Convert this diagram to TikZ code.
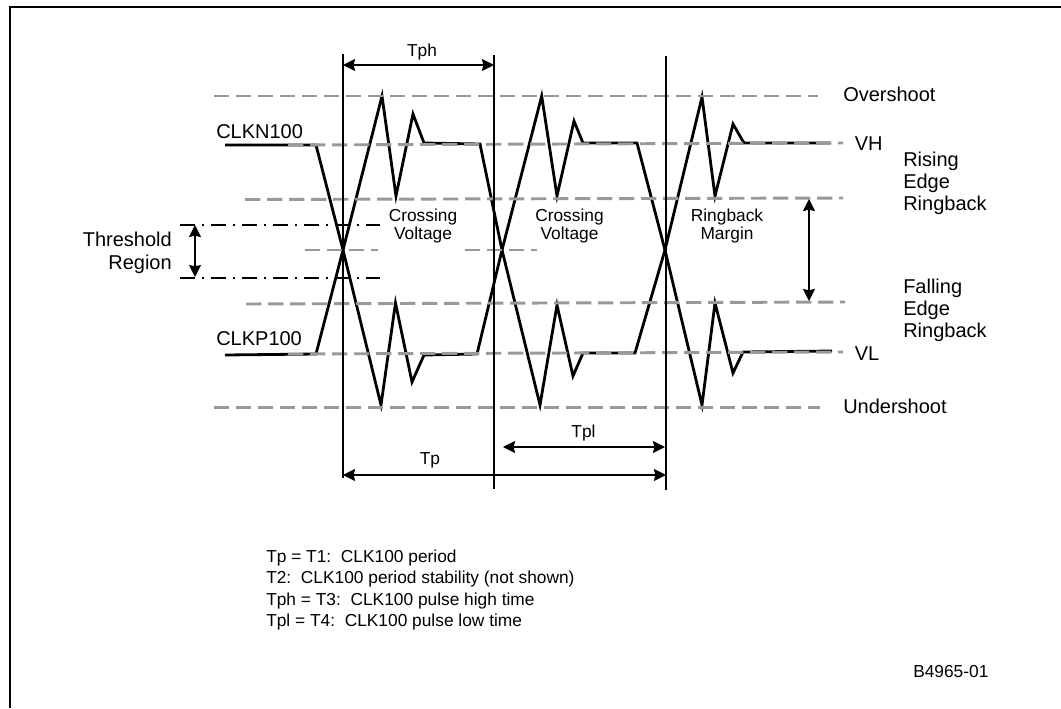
\documentclass[tikz,border=0pt]{standalone}
\usepackage{fontspec}
\setmainfont{Liberation Sans}
\usetikzlibrary{arrows.meta}
\tikzset{
  x=0.75pt,y=-0.75pt,
  lbl/.style={inner sep=0pt,font=\fontsize{15pt}{17pt}\selectfont,anchor=west,align=left},
  lblc/.style={inner sep=0pt,font=\fontsize{13pt}{14pt}\selectfont,align=center},
  levelline/.style={draw=black!40,line width=2.2pt,dash pattern=on 11.5pt off 5pt},
  signal/.style={draw=black,line width=2.1pt,line join=miter},
  vline/.style={draw=black,line width=1.25pt},
  thresh/.style={draw=black,line width=1.6pt,dash pattern=on 11.25pt off 5pt on 2pt off 5pt},
  dim/.style={draw=black,line width=1.3pt,{Stealth[length=9pt,width=9pt,inset=1pt]}-{Stealth[length=9pt,width=9pt,inset=1pt]}},
}
\begin{document}
\begin{tikzpicture}
\useasboundingbox (0,0) rectangle (1061,708);
% frame
\coordinate (fa) at (10,708);
\coordinate (fb) at (10,7);
\coordinate (fc) at (1061,7);
\draw[draw=black,line width=1.9pt] (fa) -- (fb) -- (fc);
% signals
\draw[signal] (225,145) -- (316,145) -- (343,250) -- (381,405) -- (395.5,303) -- (412,382) -- (424,355) -- (477,354) -- (502,250) -- (541.7,96) -- (557,196) -- (574,121) -- (583,143) -- (637,143) -- (665,250) -- (702,405) -- (715,303) -- (733,373) -- (743,352) -- (832,351);
\draw[signal] (225,355) -- (316,354) -- (343,250) -- (382,96) -- (396,196) -- (413,114) -- (424,143) -- (480,144) -- (502,250) -- (540,405) -- (557,305) -- (573,376) -- (583,353) -- (635,353) -- (665,250) -- (702,97) -- (715,196) -- (733,124) -- (744,143) -- (830,143);
% level lines
\coordinate (o1) at (214,96); \coordinate (o2) at (818,96);
\coordinate (h1) at (288,145); \coordinate (h2) at (843,143);
\coordinate (r1) at (245,199.5); \coordinate (r2) at (843,198);
\coordinate (c1) at (305,250); \coordinate (c2) at (378,250);
\coordinate (d1) at (465,250); \coordinate (d2) at (537,250);
\coordinate (f1) at (246,304); \coordinate (f2) at (845,302);
\coordinate (l1) at (288,354); \coordinate (l2) at (843,352);
\coordinate (u1) at (214,407.5); \coordinate (u2) at (820,407.5);
\draw[levelline] (o1) -- (o2);
\draw[levelline] (h1) -- (h2);
\draw[levelline] (r1) -- (r2);
\draw[levelline] (c1) -- (c2);
\draw[levelline] (d1) -- (d2);
\draw[levelline] (f1) -- (f2);
\draw[levelline] (l1) -- (l2);
\draw[levelline] (u1) -- (u2);
% threshold
\coordinate (t1) at (180,225); \coordinate (t2) at (380,225);
\coordinate (b1) at (180,278); \coordinate (b2) at (380,278);
\draw[thresh] (t1) -- (t2);
\draw[thresh] (b1) -- (b2);
\coordinate (tha) at (195,225); \coordinate (thb) at (195,277);
\draw[dim] (tha) -- (thb);
% verticals
\coordinate (v1a) at (343,54); \coordinate (v1b) at (343,478);
\coordinate (v2a) at (494,55); \coordinate (v2b) at (494,489);
\coordinate (v3a) at (666,56); \coordinate (v3b) at (666,490);
\draw[vline] (v1a) -- (v1b);
\draw[vline] (v2a) -- (v2b);
\draw[vline] (v3a) -- (v3b);
% dimensions
\coordinate (tpha) at (343,65); \coordinate (tphb) at (494,65);
\coordinate (tpla) at (503,447); \coordinate (tplb) at (665,447);
\coordinate (tpa) at (343,475); \coordinate (tpb) at (666,475);
\coordinate (rma) at (809,199); \coordinate (rmb) at (809,301);
\draw[dim] (tpha) -- (tphb);
\draw[dim] (tpla) -- (tplb);
\draw[dim] (tpa) -- (tpb);
\draw[dim] (rma) -- (rmb);
% labels
\node[lblc] (ltph) at (422,52) {Tph};
\node[lblc] (ltpl) at (583.5,433.5) {Tpl};
\node[lblc] (ltp) at (430,460.5) {Tp};
\node[lblc] (lcv1) at (423,226) {Crossing\\Voltage};
\node[lblc] (lcv2) at (569.5,226) {Crossing\\Voltage};
\node[lblc] (lrb) at (727,226) {Ringback\\Margin};
\node[lbl] (lclkn) at (216,132) {CLKN100};
\node[lbl] (lclkp) at (216,339) {CLKP100};
\node[lbl,align=right,anchor=east] (ltr) at (172,253) {Threshold\\Region};
\node[lbl] (lov) at (843,94) {Overshoot};
\node[lbl] (lvh) at (854.5,143.5) {VH};
\node[lbl,font=\fontsize{15pt}{16.4pt}\selectfont] (lre) at (903,183) {Rising\\Edge\\Ringback};
\node[lbl,font=\fontsize{15pt}{16.6pt}\selectfont] (lfe) at (903,310) {Falling\\Edge\\Ringback};
\node[lbl] (lvl) at (854.5,354) {VL};
\node[lbl] (lun) at (843,406) {Undershoot};
\node[lbl,font=\fontsize{13pt}{16pt}\selectfont] (lnotes) at (266,590) {Tp = T1:\ \ CLK100 period\\T2:\ \ CLK100 period stability (not shown)\\Tph = T3:\ \ CLK100 pulse high time\\Tpl = T4:\ \ CLK100 pulse low time};
\node[lbl,font=\fontsize{13pt}{14pt}\selectfont] (lbn) at (913,672) {B4965-01};
\end{tikzpicture}
\end{document}
